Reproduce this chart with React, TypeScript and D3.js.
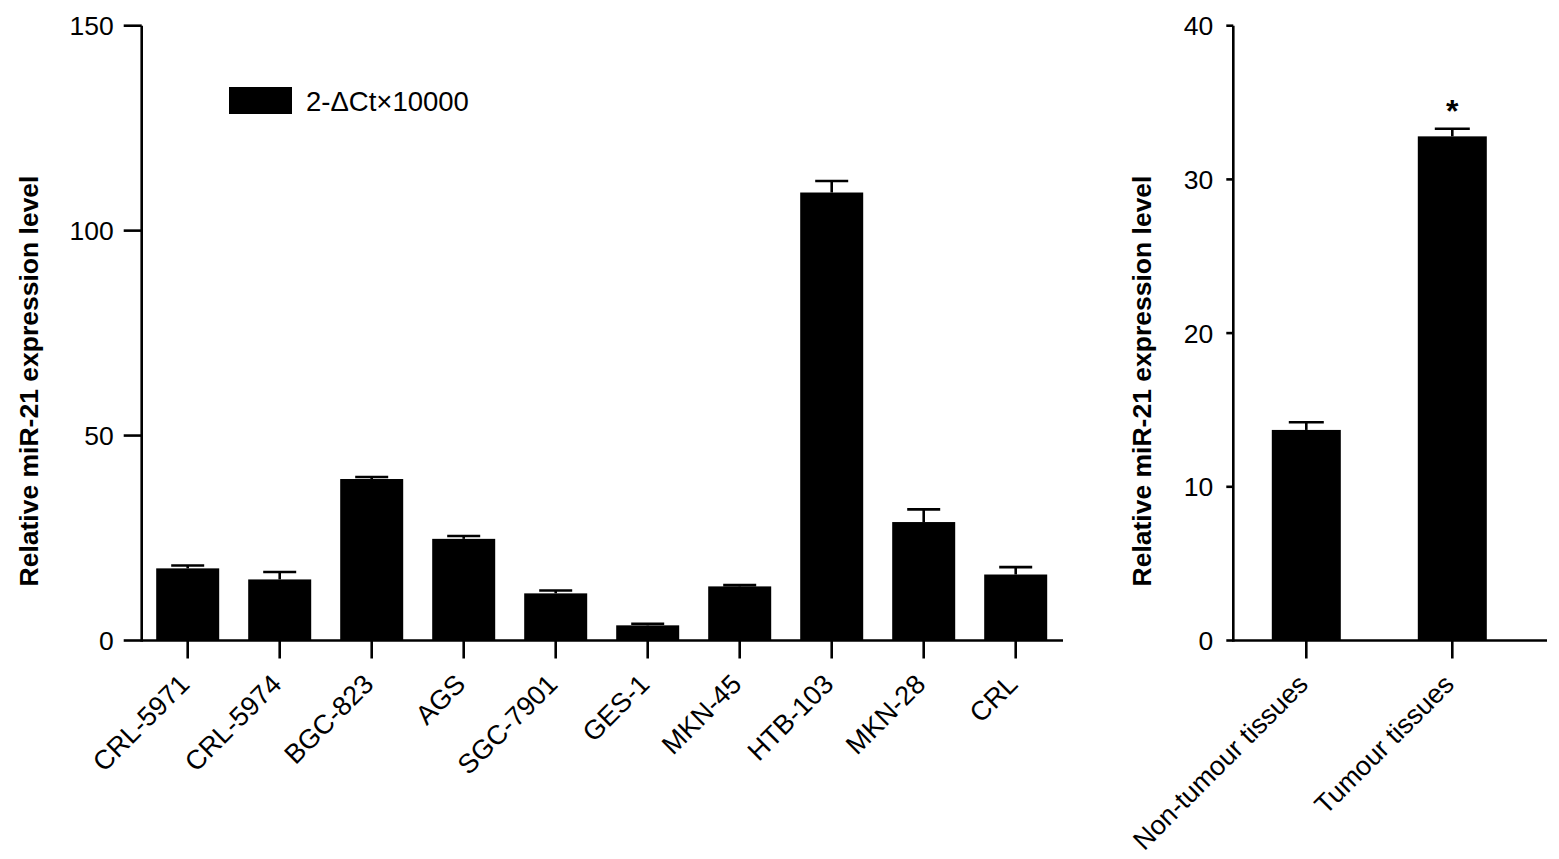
import React from "react";
import * as d3 from "d3";

const cellLines = ["CRL-5971", "CRL-5974", "BGC-823", "AGS", "SGC-7901", "GES-1", "MKN-45", "HTB-103", "MKN-28", "CRL"];
const cellValues = [17.6, 14.9, 39.4, 24.8, 11.5, 3.7, 13.2, 109.3, 28.9, 16.1];
const cellErrors = [0.7, 1.8, 0.5, 0.7, 0.7, 0.4, 0.3, 2.8, 3.1, 1.8];
const leftTicks = [0, 50, 100, 150];

const tissues = ["Non-tumour tissues", "Tumour tissues"];
const tissueValues = [13.7, 32.8];
const tissueErrors = [0.5, 0.5];
const rightTicks = [0, 10, 20, 30, 40];

const legendLabel = "2-ΔCt×10000";
const yTitle = "Relative miR-21 expression level";

const FONT = "'Liberation Sans', Arial, Helvetica, sans-serif";
const SW = 2.6;

export default function App() {
  const y0 = 640.5;
  const yTop = 25.7;

  const yL = d3.scaleLinear().domain([0, 150]).range([y0, yTop]);
  const xL = d3.scalePoint<string>().domain(cellLines).range([141.7, 1061.7]).padding(0.5);
  const barWL = 63;

  const yR = d3.scaleLinear().domain([0, 40]).range([y0, yTop]);
  const xR = d3.scalePoint<string>().domain(tissues).range([1233.3, 1525.3]).padding(0.5);
  const barWR = 69;

  const axL = 141.7;
  const axR = 1233.3;

  return (
    <svg width={1559} height={859} style={{ position: "absolute", left: 0, top: 0, background: "#fff" }} fontFamily={FONT}>
      <rect x={0} y={0} width={1559} height={859} fill="#fff" />
      {/* LEFT PANEL */}
      {cellLines.map((c, i) => {
        const cx = xL(c)!;
        const top = yL(cellValues[i]);
        const capY = yL(cellValues[i] + cellErrors[i]);
        return (
          <g key={c}>
            <rect x={cx - barWL / 2} y={top} width={barWL} height={y0 - top} fill="#000" />
            <line x1={cx} x2={cx} y1={top} y2={capY} stroke="#000" strokeWidth={SW} />
            <line x1={cx - 16.5} x2={cx + 16.5} y1={capY} y2={capY} stroke="#000" strokeWidth={SW} />
            <line x1={cx} x2={cx} y1={y0} y2={y0 + 18} stroke="#000" strokeWidth={SW} />
            <text
              transform={`translate(${cx - 10},${y0 + 32}) rotate(-45)`}
              textAnchor="end"
              dy="0.7em"
              fontSize={27}
              fill="#000"
            >
              {c}
            </text>
          </g>
        );
      })}
      <line x1={axL} x2={axL} y1={yTop} y2={y0 + SW / 2} stroke="#000" strokeWidth={SW} />
      <line x1={axL} x2={1063} y1={y0} y2={y0} stroke="#000" strokeWidth={SW} />
      {leftTicks.map((t) => (
        <g key={t}>
          <line x1={axL - 18} x2={axL} y1={yL(t)} y2={yL(t)} stroke="#000" strokeWidth={SW} />
          <text x={axL - 28} y={yL(t)} dy="0.36em" textAnchor="end" fontSize={26.5} fill="#000">
            {t}
          </text>
        </g>
      ))}
      <text transform={`translate(38,381) rotate(-90)`} textAnchor="middle" fontSize={26.5} fontWeight="bold" fill="#000">
        {yTitle}
      </text>
      <rect x={229} y={87} width={63} height={27} fill="#000" />
      <text x={306} y={101} dy="0.36em" fontSize={27.5} fill="#000">
        {legendLabel}
      </text>

      {/* RIGHT PANEL */}
      {tissues.map((c, i) => {
        const cx = xR(c)!;
        const top = yR(tissueValues[i]);
        const capY = yR(tissueValues[i] + tissueErrors[i]);
        return (
          <g key={c}>
            <rect x={cx - barWR / 2} y={top} width={barWR} height={y0 - top} fill="#000" />
            <line x1={cx} x2={cx} y1={top} y2={capY} stroke="#000" strokeWidth={SW} />
            <line x1={cx - 17.5} x2={cx + 17.5} y1={capY} y2={capY} stroke="#000" strokeWidth={SW} />
            <line x1={cx} x2={cx} y1={y0} y2={y0 + 18} stroke="#000" strokeWidth={SW} />
            <text
              transform={`translate(${cx - 10},${y0 + 32}) rotate(-45)`}
              textAnchor="end"
              dy="0.7em"
              fontSize={27}
              fill="#000"
            >
              {c}
            </text>
          </g>
        );
      })}
      <text x={xR(tissues[1])!} y={yR(tissueValues[1] + tissueErrors[1]) - 7} textAnchor="middle" fontSize={32} fontWeight="bold" fill="#000">
        *
      </text>
      <line x1={axR} x2={axR} y1={yTop} y2={y0 + SW / 2} stroke="#000" strokeWidth={SW} />
      <line x1={axR} x2={1547} y1={y0} y2={y0} stroke="#000" strokeWidth={SW} />
      {rightTicks.map((t) => (
        <g key={t}>
          <line x1={axR - 7} x2={axR} y1={yR(t)} y2={yR(t)} stroke="#000" strokeWidth={SW} />
          <text x={axR - 20} y={yR(t)} dy="0.36em" textAnchor="end" fontSize={26.5} fill="#000">
            {t}
          </text>
        </g>
      ))}
      <text transform={`translate(1151,381) rotate(-90)`} textAnchor="middle" fontSize={26.5} fontWeight="bold" fill="#000">
        {yTitle}
      </text>
    </svg>
  );
}
